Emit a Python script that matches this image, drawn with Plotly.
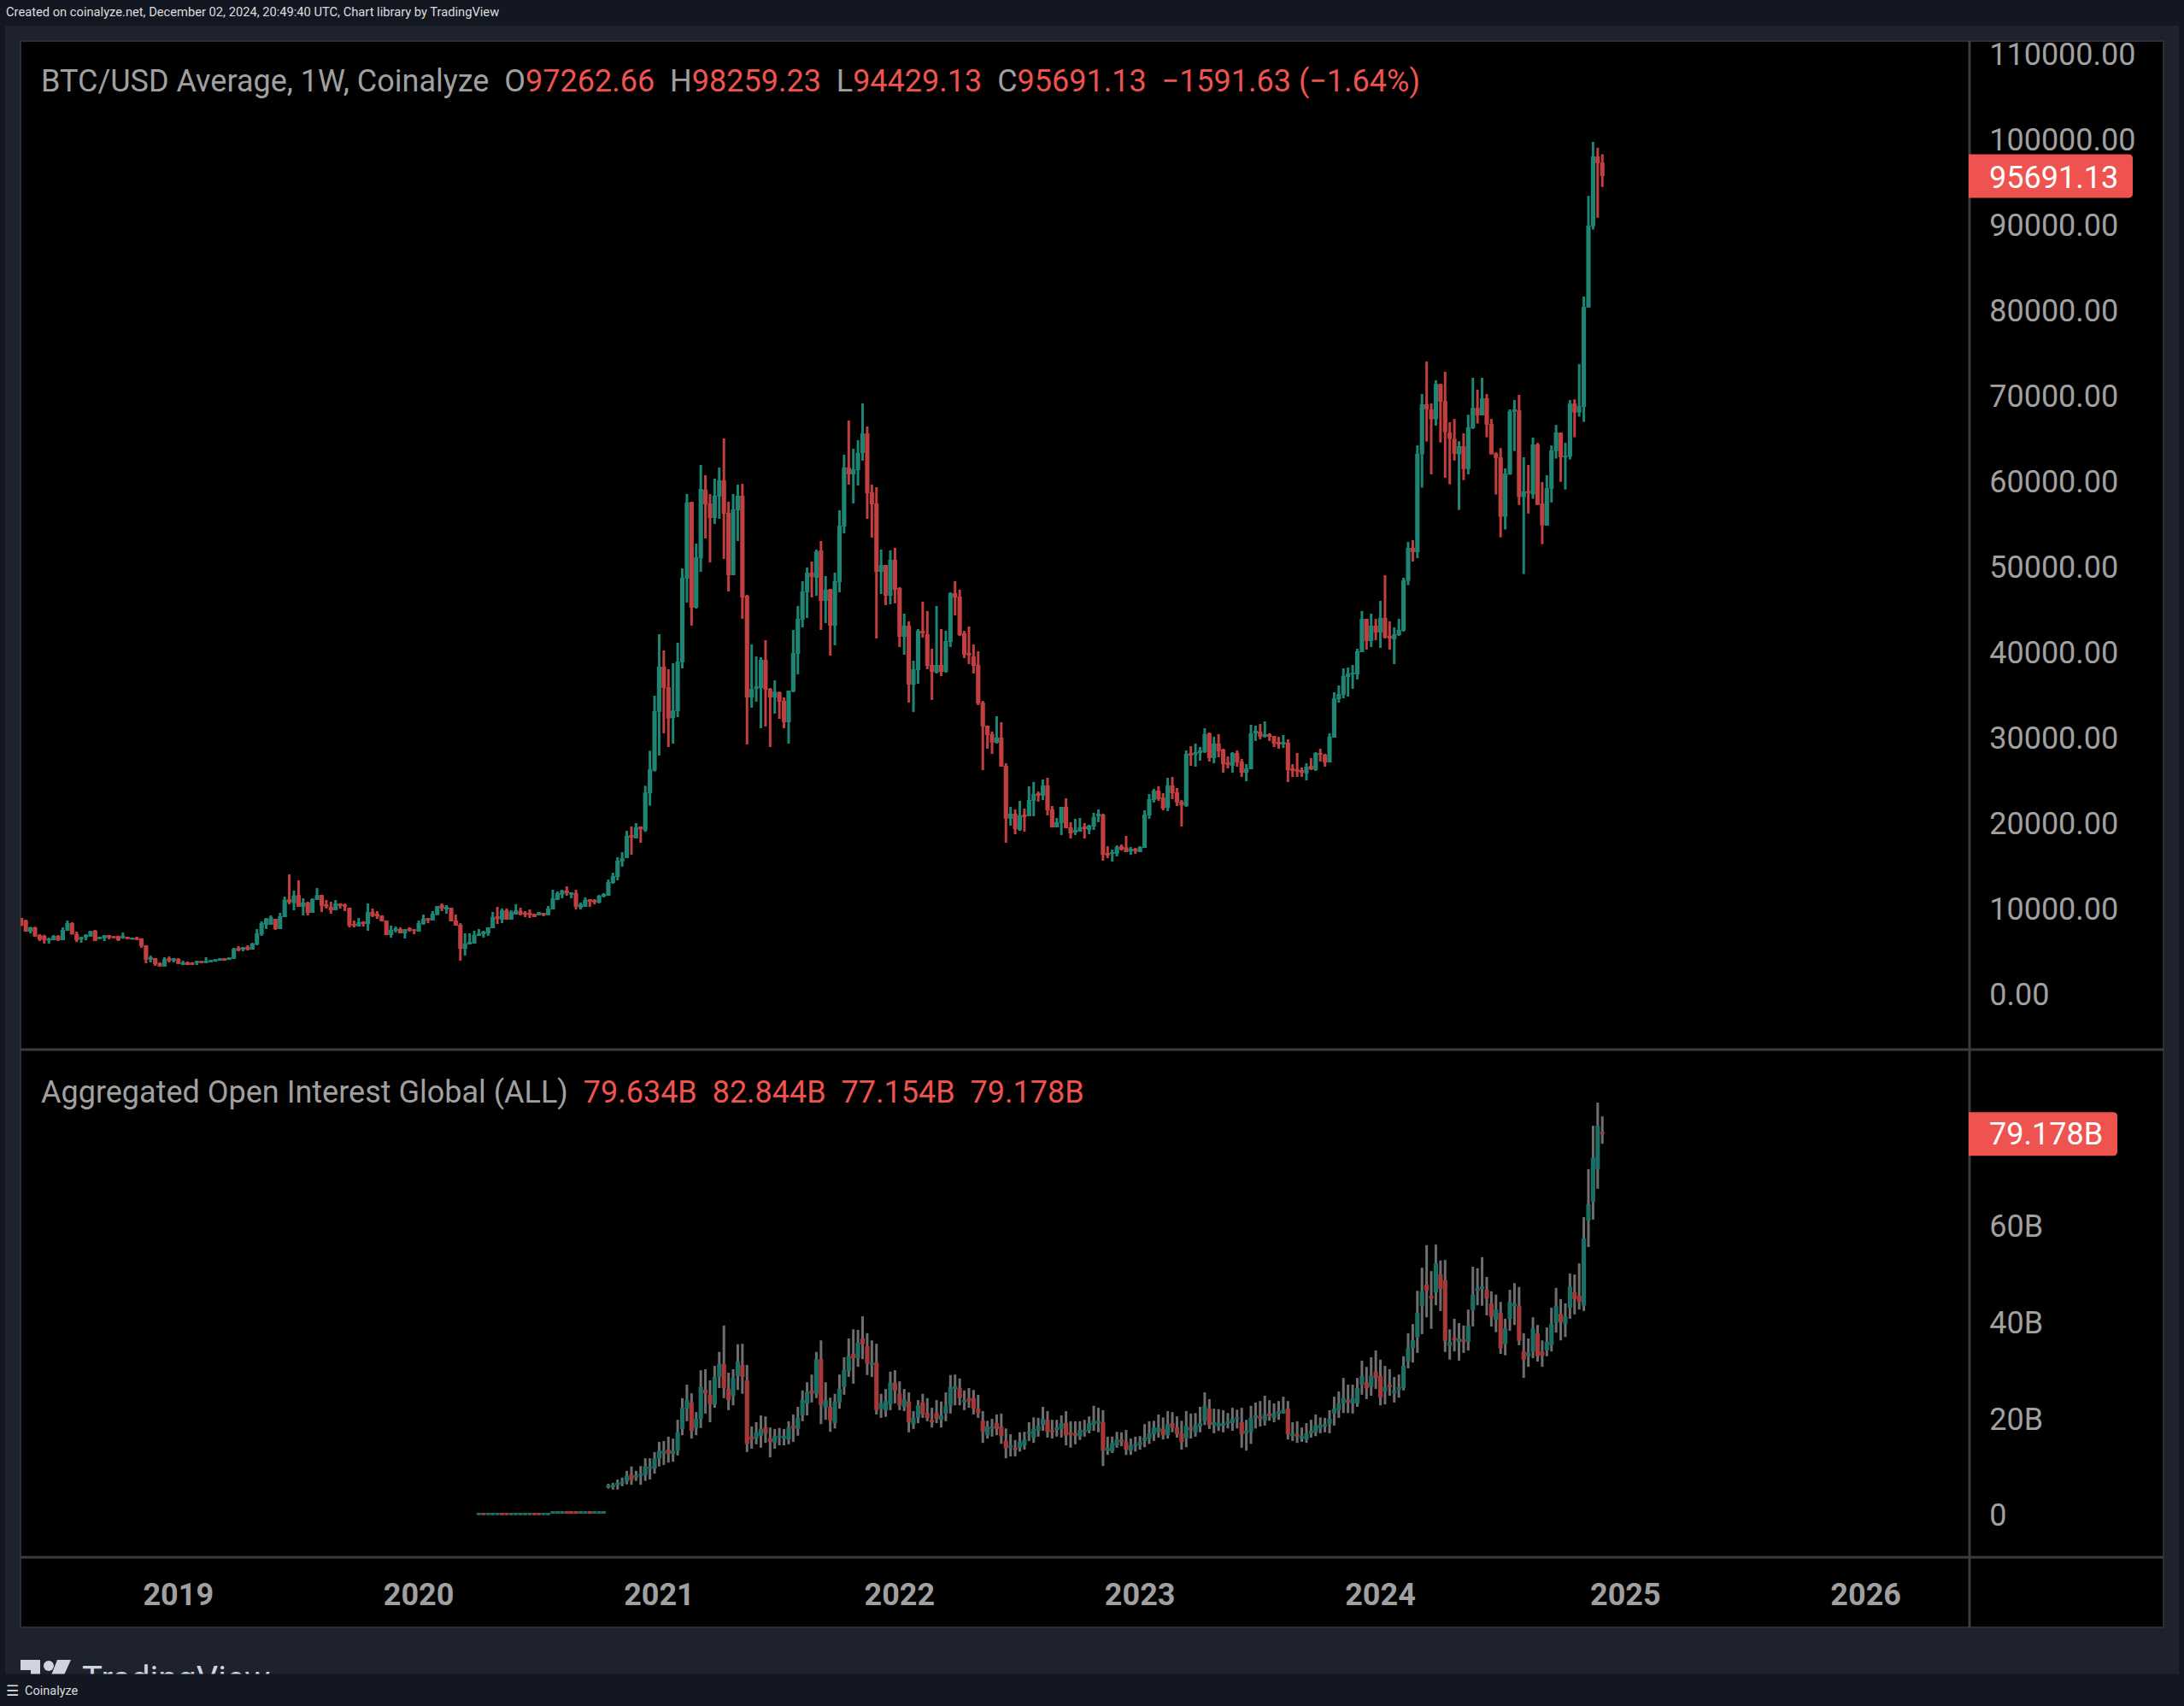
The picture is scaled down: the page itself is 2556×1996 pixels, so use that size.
"""BTC/USD weekly candles and aggregated open interest, coinalyze / TradingView look."""
import pandas as pd
import plotly.graph_objects as go
from plotly.subplots import make_subplots

# weekly BTC/USD candles
price_open = [
    8900,8630,7300,7800,6900,6800,6230,6300,6800,6300,7400,8300,7030,6400,6630,6730,7400,6430,6530,6870,6770,6770,6530,6700,6370,6600,6500,5700,4030,4200,3630,3230,4200,3900,4100,3430,3700,3700,3630,3870,3630,3730,3800,3900,4170,4000,4130,5430,5200,5530,5200,5800,6970,8100,8100,8800,7600,9000,11070,10630,11570,10200,10730,9500,11000,11600,10500,10200,9800,10570,10500,10100,8200,7900,8470,8200,9600,9400,9170,8600,6900,7400,7600,7100,7700,7570,7300,8200,8900,8600,9300,10430,9900,10100,8600,8100,5300,5800,5900,6800,7000,7100,7700,9100,8700,9800,8700,9300,9700,9500,9500,9370,9200,9500,9230,9900,11000,11600,12100,11600,11800,10100,10200,11100,11000,10700,11400,11500,13000,13700,15500,15900,18600,18200,19600,
    19140,23500,26140,33030,38300,35900,32300,33100,38800,48600,57570,45200,51000,59000,57400,55700,58200,60100,56300,49000,56600,58300,46600,34700,35700,35800,39100,35700,34700,35300,34300,31800,35400,39800,43800,47000,49300,48700,51900,46000,47370,43100,48200,54700,61600,60800,61300,63300,65600,58700,57400,49400,50200,46600,50800,47500,41800,43100,36200,37900,42500,42100,38500,37600,38500,37700,41200,46900,46500,42200,39900,39500,38500,34100,31400,30400,29400,30000,
    26700,20500,21100,19200,21000,20800,22600,23500,23200,24400,21600,19500,20000,21900,19500,18900,19000,19600,19200,19600,20800,21000,16500,16400,16400,17300,17170,16700,17000,16600,17100,20900,22700,23800,23000,21800,24400,23600,22500,22000,28200,28000,28200,28300,30500,27600,29300,28600,27100,26700,28200,27200,25900,26300,30500,30700,30100,30400,30200,29500,29200,29400,26400,26300,26200,25800,26700,26200,28200,28000,27100,30000,34500,35000,37100,37400,37400,40000,43900,41300,43100,42300,44000,41900,41500,42000,42500,
    48340,52200,51700,63150,69000,68400,67250,71380,69400,65700,64950,63150,64100,61430,66200,68580,67700,69700,66700,63260,62800,55840,60780,68120,68280,58140,58860,58450,64300,57410,54810,59130,63530,65640,62770,62880,69080,68050,68700,80330,89820,98010,97262.66,
]
price_high = [
    8900,8700,7870,7870,7000,6930,6600,6900,6900,7800,8600,8400,7300,6700,7000,7370,7500,6700,6900,6900,6770,6830,7200,6700,6600,6700,6500,5700,4500,4200,3700,4300,4400,4200,4200,3900,3800,3700,3900,3870,4300,3970,4070,4170,4170,4270,5400,5600,5470,5700,6000,7600,8500,8900,9200,8800,9500,11400,14000,12100,13300,11200,10800,11200,12400,11600,11000,10800,11000,10600,10570,10100,8600,8900,8470,10600,10000,9700,9200,8600,8000,7900,7800,7600,7800,7570,8600,9300,8900,9700,10300,10600,10400,10100,9300,8300,7100,7100,7400,7600,7400,7800,9600,10200,10000,10000,9800,10500,10100,9700,9900,9370,9600,9500,10300,12200,12000,12200,12600,11900,12200,10700,11300,11100,11100,11600,11800,13400,14200,16000,16600,19100,19600,20000,19600,
    24370,28470,34900,42100,40200,38000,38700,41100,49800,58500,57600,52700,61900,60700,58500,60300,61600,65000,57600,58500,59600,59700,46700,40900,39500,39400,41400,35800,36700,35400,34700,35500,42600,45400,48300,49900,50600,52000,53000,48900,47400,49300,56600,63100,67100,63800,64800,69100,66400,59600,59300,52000,50200,51900,52200,47600,44500,43600,39000,42700,45900,44800,40400,45400,42700,42500,47000,48300,47300,42500,43000,40900,40100,34300,31400,30700,32500,31800,
    27000,21900,21600,22600,21700,24300,24800,23700,25100,25300,22000,20600,21900,22900,20100,20500,20600,20000,19800,21200,21600,21100,17300,16900,17400,17500,18500,17200,17100,17300,21500,23400,24000,24300,23500,25300,25400,24100,22700,28500,29000,29300,28900,31100,30600,30100,30400,28700,27800,28300,28500,27500,26900,31500,31400,31600,31900,30500,30200,30100,30300,29800,26900,28200,26500,27000,27600,28300,28700,28100,30500,35300,36100,38100,38200,38500,40400,44800,43900,44500,43900,46000,49000,43600,42900,43900,48700,
    52900,53100,64200,70200,74000,69100,71800,71380,72800,66900,67280,64680,65600,67780,72100,70690,72100,70190,67280,63380,63880,61500,68400,69500,70110,62800,61890,65100,64490,59900,60700,64180,66590,65710,64490,69500,69580,73710,81600,93380,99700,99010,98259.23,
]
price_low = [
    7970,7300,7100,6730,6200,5900,5900,6300,6200,6300,7400,6970,6070,6000,6300,6730,6200,6430,6200,6400,6530,6200,6470,6430,6370,6300,5400,3600,3700,3300,3230,3200,3700,3700,3500,3400,3400,3400,3400,3630,3630,3730,3800,3900,3900,4000,4100,5000,5000,5100,5200,5700,6800,7600,8100,7500,7600,9000,10500,9800,10200,9200,9200,9500,11000,9600,10000,9400,9800,10000,9700,7800,7800,7900,7900,7400,9000,8800,8500,6900,6600,7200,7100,6500,7300,7000,7300,8100,8300,8600,9200,9700,9400,8500,8000,3900,4500,5800,5900,6800,6600,6800,7700,8200,8300,8700,8700,9300,9200,9000,8900,9000,9200,9100,9230,9900,11000,11200,11500,11200,9900,9900,10200,10200,10500,10600,11300,11500,12900,13300,14900,15900,16300,18200,17700,
    18970,22040,26030,27900,30500,28900,29300,32400,38100,45800,43100,45100,49400,53300,50500,55000,55600,50900,47100,49000,53000,43900,29200,33500,34200,31100,31300,28900,32800,32200,31100,29300,35300,37400,42900,44000,46400,46600,42600,43400,39600,40800,47000,53900,59600,57400,59500,62400,55600,53400,41600,46800,45500,45600,45700,40600,39700,34100,33000,36300,41700,38000,34400,37500,37200,37600,40600,44300,41900,39300,38600,37500,33800,26200,28700,28100,29300,26600,
    17700,19700,18700,19100,19000,20800,20800,22500,22700,20900,19500,19500,18600,19400,18200,18600,19000,18200,18700,19200,20100,15600,15900,15500,16100,16800,16600,16300,16400,16600,17100,20500,22400,22600,21500,21400,22800,22000,19600,21900,26700,26600,27300,28200,27200,27000,27700,25900,26400,25900,26600,25400,24900,26300,29600,29800,30000,29600,28900,28700,28800,24800,25400,25400,25400,25000,26200,26100,27200,26600,27100,30000,34100,34600,34800,35700,36800,40000,40300,40600,41400,40500,41600,40300,38600,41900,42400,
    47840,50600,51000,59250,64640,60800,66500,64530,60400,59630,62420,56640,60130,60800,66100,66750,67700,65140,63150,58440,53430,54350,60780,63530,57220,49140,56220,57940,57220,52630,54810,57520,62650,59930,59020,62540,65140,67550,66940,80330,89440,90820,94429.13,
]
price_close = [
    7970,7300,7800,6730,6370,6300,6470,6800,6300,7470,8300,6970,6300,6670,6900,7370,6200,6700,6870,6600,6530,6300,6830,6430,6600,6330,5630,4030,4300,3470,3230,4070,3870,4170,3530,3700,3400,3400,3870,3630,3900,3970,4070,4170,3900,4270,5300,5070,5470,5170,5900,7070,8300,8800,8970,7600,9100,11030,10730,11530,10200,10700,9470,11100,11570,10300,10200,9800,10600,10300,10200,8000,7970,8400,8200,9600,9130,9070,8500,6900,7500,7700,7100,7600,7400,7400,8300,8800,8600,9400,10300,10000,10200,8500,8000,5300,5900,6100,6900,7100,7300,7800,9000,8770,9800,8700,9600,9800,9300,9300,9230,9000,9570,9230,10000,11200,11800,12100,11800,11900,10200,10500,11000,10800,10700,11500,11700,13100,13800,15600,15900,18500,18300,19500,19300,
    23570,26300,33100,38300,35830,32230,33170,38900,48700,57500,45200,51100,59100,57300,55700,58300,60100,56200,49000,56700,58300,46400,34700,35700,36000,39100,35600,34700,35370,34200,31800,35500,39900,43900,47100,49300,48800,51800,46000,47300,43100,48300,54800,61600,60800,61400,63300,65600,58600,57300,49400,50200,46600,50800,47300,41800,43100,36200,38000,42500,42200,38400,37700,38500,37700,41300,46900,46400,42000,39700,39600,38400,34000,31300,30300,29400,30000,26600,
    20530,21100,19300,20900,20700,22700,23400,23200,24400,21500,19500,20100,21900,19400,18800,19200,19500,19300,19700,20700,21100,16300,16200,16600,17200,16900,16600,17000,16700,17200,21000,22800,23800,22800,21700,24400,23500,22400,22100,28100,27900,28300,28500,30400,27600,29300,28400,26900,26800,28200,27100,25900,26400,30500,30800,30100,30400,30100,29300,29200,29500,26200,26100,26000,25900,26600,26300,28200,28000,27100,30100,34600,35100,37200,37500,37600,40100,43900,41300,43100,42300,44000,41700,41600,42100,42600,48400,
    52200,51700,63200,69000,68430,67250,71380,69310,65750,64950,63190,64100,61430,66290,68580,67700,69700,66630,63150,62730,55840,60890,68200,68390,58140,58790,58630,64300,57260,54850,59210,63610,65710,62800,63000,69080,68050,68780,80410,89900,98010,97210,95691.13,
]

# aggregated open interest in billions
oi_open = [
    0,.47,0,0,0,.47,.47,0,0,0,0,0,.47,.47,0,0,.3,.3,.3,.8,.8,.8,.3,.3,.8,.3,.3,.3,
    5.7,5.8,6.2,6.5,7.0,8.4,7.8,8.2,8.3,9.6,9.7,11.7,12.7,13.6,12.7,13.4,17.9,22.1,23.4,18.1,20.0,26.0,25.0,23.0,28.7,31.4,26.2,24.8,28.9,31.2,28.0,16.3,15.9,16.5,18.2,15.9,15.0,16.1,15.9,15.7,18.6,17.9,20.7,23.2,25.9,25.2,32.4,22.3,22.5,19.1,23.4,26.6,29.9,33.5,32.6,36.7,35.1,31.2,31.7,22.1,21.8,23.0,27.5,25.3,22.5,23.6,18.9,20.2,23.4,21.2,19.8,21.2,19.8,21.1,22.7,26.2,26.4,23.4,24.3,24.3,
    22.1,19.6,16.6,17.9,19.1,18.4,15.4,14.0,14.0,14.0,14.5,16.9,16.1,17.5,18.7,19.8,17.6,17.7,17.9,19.1,17.2,17.0,16.3,17.2,17.5,18.7,19.1,19.3,13.4,13.2,14.5,15.7,15.2,13.4,14.4,14.5,15.4,15.9,16.8,17.3,17.9,16.6,19.1,18.2,17.0,15.9,18.2,17.2,18.4,19.5,22.1,18.7,18.4,18.6,19.0,19.1,19.9,19.3,17.0,17.3,20.2,20.5,19.6,21.1,20.2,21.1,21.1,22.1,16.4,16.8,15.9,15.7,17.0,17.2,18.0,18.4,18.9,21.1,21.8,23.2,23.9,23.2,23.2,27.1,27.6,26.6,29.8,
    28.9,25.7,27.1,25.3,26.0,26.4,31.9,34.7,36.9,43.4,47.9,45.6,46.3,50.0,48.8,35.1,36.9,36.0,36.5,36.0,42.6,46.6,47.0,46.8,44.0,40.6,42.0,35.5,40.8,43.4,43.5,34.0,33.0,34.0,37.8,34.0,34.2,35.3,39.9,41.8,39.7,43.1,46.3,45.6,43.5,61.2,65.1,71.9,79.634,
]
oi_high = [
    .47,.47,.47,.47,.47,.47,.47,.47,.47,.47,.47,.47,.47,.47,.47,.47,.8,.8,.8,.8,.8,.8,.8,.8,.8,.8,.8,.8,
    6.5,6.7,7.4,7.8,9.2,10.1,9.2,10.2,11.8,11.8,13.1,15.2,15.4,16.3,15.9,19.8,24.3,27.1,25.3,21.4,30.1,30.3,28.0,31.0,33.9,39.4,29.6,30.3,35.5,35.6,31.2,18.4,19.3,20.7,20.5,18.2,17.9,18.1,17.9,19.5,20.9,22.5,25.9,27.6,29.2,33.9,36.3,27.6,24.4,25.2,29.2,32.8,36.7,38.6,38.5,41.3,37.8,36.3,35.6,25.2,26.2,29.8,30.1,27.8,26.2,25.5,21.6,23.9,25.2,24.3,22.3,23.9,23.6,25.5,29.1,29.2,28.4,25.9,26.4,26.0,
    25.0,21.6,19.6,20.0,20.9,21.1,18.0,16.8,15.6,17.2,17.3,19.3,20.3,20.2,22.5,21.6,19.8,19.8,20.7,21.6,19.5,19.5,19.5,19.8,20.5,22.7,22.3,21.8,16.3,16.3,17.3,17.2,17.7,15.9,16.3,16.4,18.9,19.5,19.6,20.9,20.3,21.6,21.4,20.5,19.6,21.6,21.1,21.2,22.5,25.5,24.1,22.1,22.0,21.8,21.2,22.3,21.9,22.3,19.8,22.7,23.4,23.7,24.8,23.9,23.2,23.7,24.6,23.7,19.3,19.5,18.2,19.1,19.8,20.9,20.3,20.2,21.8,24.6,25.7,28.5,27.1,27.1,28.5,32.1,30.8,32.8,34.2,
    32.3,31.0,30.3,28.7,29.2,33.0,37.8,39.7,46.6,51.4,56.1,50.7,56.2,52.9,53.0,38.6,40.8,39.9,39.4,42.7,51.6,51.3,53.6,49.5,46.5,45.8,44.3,40.8,46.8,48.2,47.4,37.8,36.7,41.1,39.5,36.3,39.0,43.1,47.2,44.9,44.0,50.2,50.0,52.3,61.9,71.9,80.9,85.7,82.844,
]
oi_low = [
    0,0,0,0,0,0,0,0,0,0,0,0,0,0,0,0,.3,.3,.3,.3,.3,.3,.3,.3,.3,.3,.3,.3,
    5.5,5.3,5.3,6.0,6.4,6.3,7.1,6.3,7.1,7.4,8.6,10.1,10.4,10.9,11.1,12.4,16.6,19.5,15.9,16.6,18.1,21.1,19.3,22.3,26.4,24.3,21.8,22.8,26.0,25.2,13.1,13.8,14.7,14.0,15.0,12.0,13.8,14.5,14.5,14.7,15.2,16.5,19.5,20.7,23.4,24.3,18.9,19.8,17.3,18.0,22.1,25.0,28.7,27.3,30.8,32.4,29.1,28.7,20.9,20.2,20.4,21.8,23.2,21.8,21.6,17.2,17.9,19.1,20.2,19.5,18.2,19.1,18.2,19.5,21.1,22.8,22.8,21.8,22.3,20.9,
    20.2,15.0,15.9,16.3,16.6,14.8,11.8,12.2,12.2,13.2,13.6,15.4,15.0,16.3,17.5,16.1,15.9,16.3,16.1,14.5,14.0,14.7,15.6,16.3,17.0,17.5,17.2,10.2,12.5,12.9,14.0,14.3,12.5,12.5,13.2,13.6,14.1,14.8,15.4,16.1,15.7,15.9,17.2,16.1,13.6,14.1,15.9,16.3,17.2,18.7,17.9,17.0,17.5,17.2,18.0,17.5,18.0,14.0,13.4,14.8,18.0,18.4,18.6,19.6,19.3,19.8,21.1,15.7,15.4,15.0,15.2,15.0,16.1,16.4,17.0,17.2,17.0,18.6,20.2,21.2,21.2,21.1,22.5,25.0,24.1,24.8,26.2,
    22.8,23.0,24.8,23.4,24.4,25.9,30.5,31.7,33.7,37.6,41.1,38.7,43.6,42.4,33.9,32.3,34.0,32.1,33.7,34.2,39.2,43.6,43.5,41.5,39.2,38.0,33.5,33.2,38.3,39.5,35.3,28.5,30.8,32.6,31.9,30.8,33.0,34.0,37.9,36.3,37.0,40.8,41.7,42.7,42.4,55.7,61.4,67.8,77.154,
]
oi_close = [
    .47,0,.47,.47,.47,0,0,.47,.47,.47,.47,.47,0,0,.47,.47,.8,.8,.8,.3,.3,.3,.8,.8,.3,.8,.8,.8,
    6.2,6.3,6.7,7.0,8.2,7.3,8.3,8.6,10.1,10.1,11.8,13.4,13.4,12.7,13.4,17.2,22.3,23.9,17.5,20.0,26.6,25.3,23.0,28.7,31.4,26.4,23.9,28.5,31.9,28.7,14.8,15.7,17.2,17.9,17.0,15.2,16.4,16.6,16.4,18.2,18.0,20.2,23.9,25.5,25.3,32.4,22.8,23.9,19.6,23.6,26.2,30.1,33.0,32.6,35.8,35.5,31.5,31.7,21.8,23.2,23.7,27.5,25.9,22.8,24.1,19.3,20.2,22.8,20.9,20.2,19.3,20.0,20.7,22.7,26.6,26.8,24.3,23.9,23.7,22.1,
    21.2,17.3,18.4,18.4,17.9,16.4,13.9,14.5,13.5,15.2,15.7,17.3,17.9,18.6,20.0,17.3,17.2,18.2,19.1,16.6,16.7,16.5,17.7,17.7,19.1,19.6,19.6,13.4,14.0,15.0,15.7,15.2,13.6,14.5,14.8,15.2,16.1,17.0,18.2,18.2,16.6,18.9,18.2,16.8,15.2,18.6,17.7,18.7,19.1,22.7,18.7,19.3,19.1,19.1,19.5,20.0,20.3,16.8,17.5,20.2,20.7,20.0,20.9,20.6,21.2,21.6,21.9,16.8,17.0,16.3,16.4,17.0,17.5,18.7,18.7,18.9,20.0,22.1,23.2,24.4,23.4,24.3,26.4,28.9,26.4,29.0,28.5,
    24.4,26.6,26.6,25.9,26.6,31.0,34.7,36.3,42.0,46.5,46.6,45.0,52.3,47.0,36.2,36.0,36.3,36.7,36.0,39.4,45.8,47.2,47.5,45.0,41.2,42.7,34.7,38.8,44.3,44.0,36.2,32.3,33.8,38.8,33.0,33.2,36.0,39.7,43.5,40.1,41.3,47.5,44.9,44.3,57.5,64.6,74.3,80.9,79.178,
]

year_ticks = ["2019-01-07", "2020-01-06", "2021-01-04", "2022-01-03", "2023-01-02", "2024-01-01", "2025-01-06", "2026-01-05"]
year_labels = ["2019", "2020", "2021", "2022", "2023", "2024", "2025", "2026"]
price_ticks = list(range(0, 120000, 10000))
oi_ticks = [0, 20, 40, 60]
oi_labels = ["0", "20B", "40B", "60B"]

W, H = 2556, 1996
FONT = "Roboto"
GRAY = "#a0a0a0"
RED = "#ef5350"
WEEK_MS = 7 * 24 * 3600 * 1000


def px(x):
    return x / W


def py(y):
    return 1 - y / H


dates = pd.date_range(end="2024-12-02", periods=len(price_open), freq="W-MON")
oi_dates = dates[-len(oi_open):]

fig = make_subplots(rows=2, cols=1, shared_xaxes=True, vertical_spacing=0)


def add_bars(row, x, o, h, l, c, up, down, wick_up, wick_down):
    # wicks are thin bars so the bodies can sit on top of them
    wick_colors = [wick_up if b >= a else wick_down for a, b in zip(o, c)]
    fig.add_trace(go.Bar(
        x=x, base=l, y=[a - b for a, b in zip(h, l)],
        width=WEEK_MS * 3 / 5.41,
        marker=dict(color=wick_colors, line_width=0),
        hoverinfo="skip", showlegend=False,
    ), row=row, col=1)
    fig.add_trace(go.Candlestick(
        x=x, open=o, high=h, low=l, close=c,
        increasing=dict(fillcolor=up, line=dict(color=up, width=0)),
        decreasing=dict(fillcolor=down, line=dict(color=down, width=0)),
        showlegend=False,
    ), row=row, col=1)


add_bars(1, dates, price_open, price_high, price_low, price_close,
         "#1e8575", "#c23f3f", "#1e8575", "#c23f3f")
add_bars(2, oi_dates, oi_open, oi_high, oi_low, oi_close,
         "#1a6e64", "#a73838", "#6e6e6e", "#6e6e6e")

x_range = ["2018-05-13", "2026-06-11"]
fig.update_xaxes(range=x_range, type="date", showgrid=False, zeroline=False, showline=False, automargin=False,
                 rangeslider_visible=False, domain=[px(24), px(2305)])
fig.update_xaxes(showticklabels=False, ticks="", row=1, col=1)
fig.update_xaxes(tickvals=year_ticks, ticktext=year_labels, ticks="outside", ticklen=12,
                 tickcolor="rgba(0,0,0,0)",
                 tickfont=dict(family=FONT, size=36, color=GRAY, weight=700), row=2, col=1)
fig.update_yaxes(side="right", showgrid=False, zeroline=False, showline=False, automargin=False, ticks="outside",
                 ticklen=15, tickcolor="rgba(0,0,0,0)",
                 tickfont=dict(family=FONT, size=36, color=GRAY))
fig.update_yaxes(domain=[py(1228), py(48)], range=[-6500, 111500], tickvals=price_ticks,
                 tickformat=".2f", row=1, col=1)
fig.update_yaxes(domain=[py(1822), py(1228)], range=[-8.77, 96.73], tickvals=oi_ticks,
                 ticktext=oi_labels, row=2, col=1)


def rect(x0, y0, x1, y1, color, line=None):
    return dict(type="rect", xref="paper", yref="paper", x0=px(x0), x1=px(x1), y0=py(y1), y1=py(y0),
                fillcolor=color, line=dict(width=2 if line else 0, color=line or color), layer="below")


def rule(x0, y0, x1, y1):
    return dict(type="line", xref="paper", yref="paper", x0=px(x0), x1=px(x1), y0=py(y0), y1=py(y1),
                line=dict(color="#3c3d40", width=3), layer="above")


def value_tag(yref, value, width):
    # red price tag glued to the axis, rounded on the right
    r = 5
    path = (f"M 0 -25.5 L {width - r} -25.5 Q {width} -25.5 {width} {-25.5 + r} "
            f"L {width} {25.5 - r} Q {width} 25.5 {width - r} 25.5 L 0 25.5 Z")
    return dict(type="path", path=path, xref="paper", xsizemode="pixel", xanchor=px(2304),
                yref=yref, ysizemode="pixel", yanchor=value,
                fillcolor=RED, line_width=0, layer="above")


def poly(points, color="#d1d4dc"):
    path = "M " + " L ".join(f"{px(a)} {py(b)}" for a, b in points) + " Z"
    return dict(type="path", path=path, xref="paper", yref="paper", fillcolor=color, line_width=0, layer="above")


shapes = [
    rect(6, 30, 2550, 1975, "#1e222d"),
    rect(24, 48, 2532, 1904, "#000000", line="#2a2e39"),
    rule(24, 1228, 2532, 1228),
    rule(24, 1822, 2532, 1822),
    rule(2305, 48, 2305, 1904),
    value_tag("y", price_close[-1], 192),
    value_tag("y2", oi_close[-1], 174),
    # tradingview logo, its lower part goes behind the bottom strip
    poly([(24, 1942), (47, 1942), (47, 1975), (36, 1975), (36, 1954), (24, 1954)]),
    dict(type="circle", xref="paper", yref="paper", x0=px(51), x1=px(63), y0=py(1955), y1=py(1943),
         fillcolor="#d1d4dc", line_width=0, layer="above"),
    poly([(67, 1942), (83, 1942), (68, 1975), (54, 1975)]),
]


def label(x, y, text, size=36, color=GRAY, family=FONT, yref="paper", **extra):
    return dict(x=px(x), y=y if yref != "paper" else py(y), xref="paper", yref=yref, text=text, showarrow=False,
                xanchor="left", yanchor="middle", align="left", borderpad=0,
                font=dict(family=family, size=size, color=color), **extra)


def red(text):
    return f'<span style="color:{RED}">{text}</span>'


price_title = ("BTC/USD Average, 1W, Coinalyze  O" + red("97262.66") + "  H" + red("98259.23") + "  L" + red("94429.13")
               + "  C" + red("95691.13") + "  " + red("−1591.63 (−1.64%)"))
oi_title = "Aggregated Open Interest Global (ALL)  " + red("79.634B  82.844B  77.154B  79.178B")

annotations = [
    label(6, 14, "Created on coinalyze.net, December 02, 2024, 20:49:40 UTC, Chart library by TradingView",
          size=14.7, color="#dddddd"),
    label(47, 95, price_title),
    label(47, 1278, oi_title),
    label(2327, price_close[-1], "95691.13", color="#ffffff", yref="y", yshift=-2),
    label(2327, oi_close[-1], "79.178B", color="#ffffff", yref="y2"),
    label(95, 1964, "TradingView", size=40, color="#d1d4dc"),
    # bottom strip, an annotation so that it covers the logo text
    dict(x=0, y=0, xref="paper", yref="paper", xanchor="left", yanchor="bottom", text=" ", showarrow=False,
         width=W, height=36, bgcolor="#131722", borderpad=0),
    label(6, 1978, "☰", size=17, color="#dddddd", family="DejaVu Sans"),
    label(28, 1978, "Coinalyze", size=14.5, color="#dddddd"),
]

fig.update_layout(
    width=W, height=H, autosize=False,
    margin=dict(l=0, r=0, t=0, b=0),
    paper_bgcolor="#131722", plot_bgcolor="#000000",
    barmode="overlay", boxgap=0.05, boxgroupgap=0,
    showlegend=False, shapes=shapes, annotations=annotations,
)

fig.write_html("out.html", config=dict(displayModeBar=False),
               post_script="document.body.style.margin='0';")
